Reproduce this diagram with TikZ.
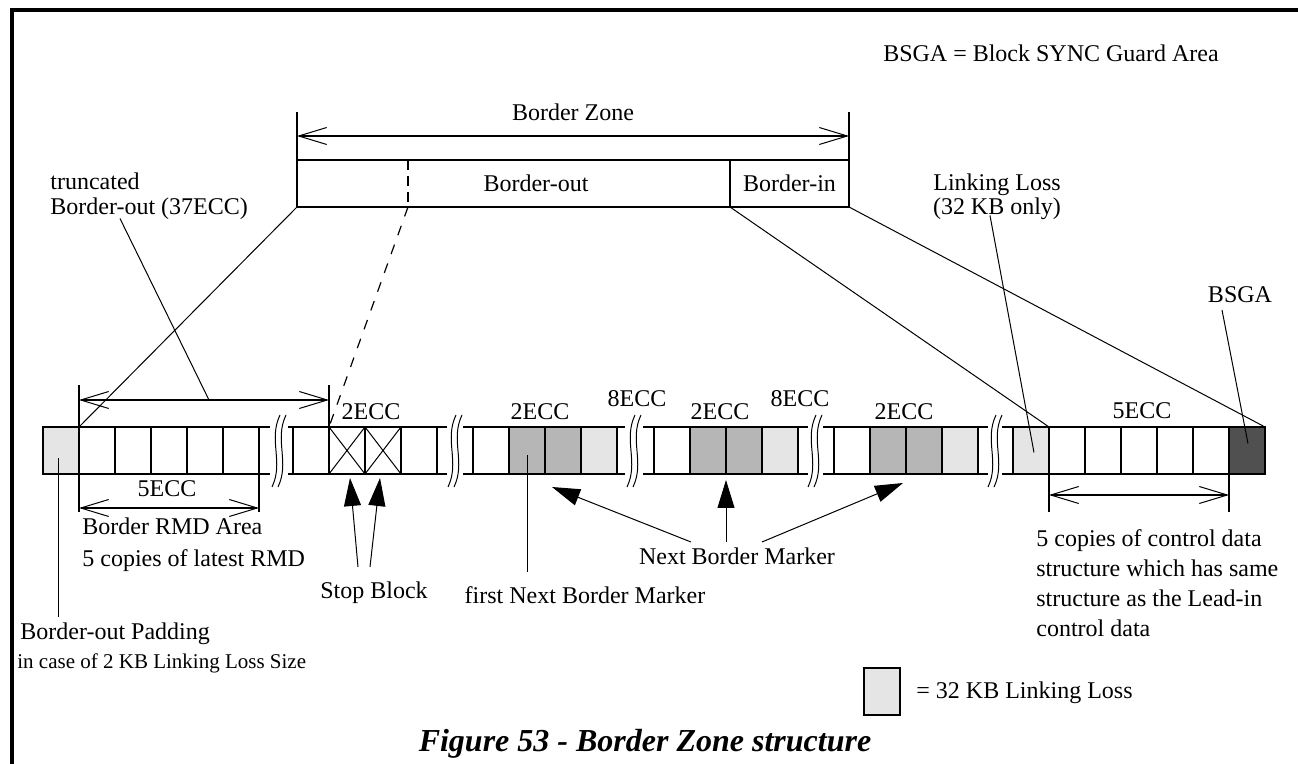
\documentclass[tikz,border=0pt]{standalone}
\usepackage{fontspec}
\setmainfont{Liberation Serif}
\usetikzlibrary{arrows.meta,positioning,calc}
\definecolor{cLoss}{RGB}{229,229,229}
\definecolor{cMark}{RGB}{182,182,182}
\definecolor{cBsga}{RGB}{80,80,80}
\tikzset{
  lbl/.style={inner sep=0pt,font=\fontsize{12}{14}\selectfont},
  smlbl/.style={inner sep=0pt,font=\fontsize{10.5}{12}\selectfont},
  captlbl/.style={inner sep=0pt,font=\fontsize{16}{18}\selectfont\bfseries\itshape},
  blk/.style={rectangle,draw,line width=1pt,minimum width=18pt,minimum height=23.5pt,
              inner sep=0pt,outer sep=0pt,anchor=north west},
  lossblk/.style={blk,fill=cLoss},
  markblk/.style={blk,fill=cMark},
  bsgablk/.style={blk,fill=cBsga},
  stopblk/.style={blk,path picture={
      \draw[line width=0.5pt] (path picture bounding box.south west) -- (path picture bounding box.north east)
                              (path picture bounding box.north west) -- (path picture bounding box.south east);}},
  zonebox/.style={rectangle,draw,line width=1pt,minimum height=23.5pt,inner sep=0pt,outer sep=0pt},
  dimarr/.style={<->,>={Straight Barb[length=14pt,width=8.5pt,line width=0.5pt]},line width=1pt},
  dimtick/.style={line width=1pt},
  ptr/.style={line width=0.5pt},
  dashin/.style={line width=1pt,dash pattern=on 5pt off 3pt},
  dashout/.style={line width=0.6pt,dash pattern=on 5pt off 5pt},
  bigarr/.style={-{Triangle[length=14pt,width=8.5pt]},line width=0.5pt},
  brk/.style={line width=0.5pt}
}

\begin{document}
\begin{tikzpicture}[x=0.5pt,y=-0.5pt]
  \useasboundingbox (0,0) rectangle (1298,764);
  \draw[line width=2pt] (12,764) -- (12,10) -- (1298,10);

  \node[lbl,anchor=base] (bsgadef) at (1051,62) {BSGA = Block SYNC Guard Area};

  % Border Zone on top
  \node[zonebox,minimum width=216.5pt] (bout) at (513.5,183.5) {};
  \node[zonebox,minimum width=59.5pt,right=0pt of bout,font=\fontsize{12}{14}\selectfont] (bin) {Border-in};
  \node[lbl,anchor=base] (bouttxt) at (536,192) {Border-out};
  \node[lbl,anchor=base] (bztxt) at (573,121) {Border Zone};
  \draw[dimtick] (bout.north west) -- ++(0,-48);
  \draw[dimtick] (bin.north east) -- ++(0,-48);
  \draw[dimarr] ($(bout.north west)+(0,-24)$) -- ($(bin.north east)+(0,-24)$);
  \coordinate (cut) at ($(bout.north west)+(111,0)$);

  % the strip
  \node[lossblk] (p0) at (43,427) {};
  \foreach \i/\x in {1/79,2/115,3/151,4/187,5/223}
    \node[blk] (r\i) at (\x,427) {};
  \node[blk] (s0) at (293,427) {};
  \node[stopblk,right=0pt of s0] (x1) {};
  \node[stopblk,right=0pt of x1] (x2) {};
  \node[blk,right=0pt of x2] (s3) {};
  \foreach \g/\x in {a/473,b/654,c/834} {
    \node[blk] (w\g) at (\x,427) {};
    \node[markblk,right=0pt of w\g] (mi\g) {};
    \node[markblk,right=0pt of mi\g] (mo\g) {};
    \node[lossblk,right=0pt of mo\g] (l\g) {};
  }
  \node[lossblk] (q0) at (1013,427) {};
  \foreach \i/\x in {1/1049,2/1085,3/1121,4/1157,5/1193}
    \node[blk] (u\i) at (\x,427) {};
  \node[bsgablk] (dk) at (1229,427) {};

  \foreach \n/\a/\d in {r5/east/11,s3/east/10,la/east/8,lb/east/10,lc/east/10,
                        s0/west/-5,wa/west/-10,wb/west/-11,wc/west/-11,q0/west/-11}
    \draw[line width=1pt] (\n.north \a) -- ++(\d,0) (\n.south \a) -- ++(\d,0);

  \foreach \c in {279,455,634,815,995}
    \foreach \o in {-3,3}
      \draw[brk] (\c+\o+4,415) .. controls (\c+\o-8,440) and (\c+\o+8,462) .. (\c+\o-4,487);

  \foreach \p/\q/\t in {371/420/2ECC,540/420/2ECC,720/420/2ECC,904/420/2ECC,
                        637/407/8ECC,800/407/8ECC,1142/419/5ECC}
    \node[lbl,anchor=base] (ecc\p) at (\p,\q) {\t};

  % links from the Border Zone
  \draw[ptr] (bout.south west) -- (r1.north west);
  \draw[ptr] (bin.south west) -- (u1.north west);
  \draw[ptr] (bin.south east) -- (dk.north east);
  \draw[dashin] (cut) -- (cut |- bout.south);
  \draw[dashout] (cut |- bout.south) -- (x1.north west);

  % dimensions
  \draw[dimtick] (r1.north west) -- ++(0,-42);
  \draw[dimtick] (x1.north west) -- ++(0,-42);
  \draw[dimarr] ($(r1.north west)+(0,-27)$) coordinate (ta) -- ($(x1.north west)+(0,-27)$) coordinate (tb);
  \draw[dimtick] (r1.south west) -- ++(0,38);
  \draw[dimtick] (r5.south east) -- ++(0,38);
  \draw[dimarr] ($(r1.south west)+(0,34)$) -- ($(r5.south east)+(0,34)$);
  \node[lbl,anchor=base] (rmdecc) at (167,497) {5ECC};
  \draw[dimtick] (u1.south west) -- ++(0,38);
  \draw[dimtick] (u5.south east) -- ++(0,38);
  \draw[dimarr] ($(u1.south west)+(0,21)$) -- ($(u5.south east)+(0,21)$);

  % labels
  \node[lbl,font=\fontsize{12}{12.5}\selectfont,align=left,anchor=north west] (trtxt) at (50,172.5)
      {truncated\\Border-out (37ECC)};
  \node[lbl,font=\fontsize{12}{12}\selectfont,align=center,anchor=north] (lltxt) at (997,173.5)
      {Linking Loss\\(32 KB only)};
  \node[lbl,anchor=base] (bsgatxt) at (1240,303) {BSGA};
  \node[lbl,font=\fontsize{12}{16}\selectfont,align=left,anchor=north west] (rmdtxt) at (82,517.5)
      {Border RMD Area\\5 copies of latest RMD};
  \node[lbl,anchor=base] (sbtxt) at (374,599) {Stop Block};
  \node[lbl,anchor=base] (fnbtxt) at (585,604) {first Next Border Marker};
  \node[lbl,anchor=base] (nbtxt) at (737,565) {Next Border Marker};
  \node[lbl,anchor=base west] (padtxt) at (20,640) {Border-out Padding};
  \node[smlbl,anchor=base west] (padsub) at (17,669) {in case of 2 KB Linking Loss Size};
  \node[lbl,font=\fontsize{12}{15}\selectfont,align=left,anchor=north west] (cdtxt) at (1036,529.5)
      {5 copies of control data\\structure which has same\\structure as the Lead-in\\control data};
  \node[lossblk] (legbox) at (864,668) {};
  \node[lbl,anchor=base west] (legtxt) at (916,699) {= 32 KB Linking Loss};
  \node[captlbl,anchor=base] (capt) at (645,752) {Figure 53 - Border Zone structure};

  % pointers
  \draw[ptr] ($(trtxt.north west)+(70,46)$) -- ($(ta)!0.52!(tb)$);
  \draw[ptr] ($(lltxt.north)+(-7,42)$) -- ($(q0.center)+(3,2)$);
  \draw[ptr] ($(bsgatxt.base)+(-18,7)$) -- ($(dk.center)+(1,-7)$);
  \draw[ptr] ($(p0.center)+(-3,8)$) -- ($(p0.center)+(-3,167)$);
  \draw[ptr] ($(mia.center)+(0,5)$) -- ($(mia.center)+(0,122)$);
  \draw[bigarr] ($(sbtxt.base)+(-16,-32)$) -- ($(x1.south)+(3,4)$);
  \draw[bigarr] ($(sbtxt.base)+(-4,-32)$) -- ($(x2.south)+(-3,4)$);
  \draw[bigarr] ($(nbtxt.base)+(-46,-23)$) -- ($(mia.south east)+(7,13)$);
  \draw[bigarr] ($(nbtxt.base)+(-11,-23)$) -- ($(mib.south east)+(0,6)$);
  \draw[bigarr] ($(nbtxt.base)+(25,-23)$) -- ($(mic.south east)+(-3,9)$);
\end{tikzpicture}
\end{document}
